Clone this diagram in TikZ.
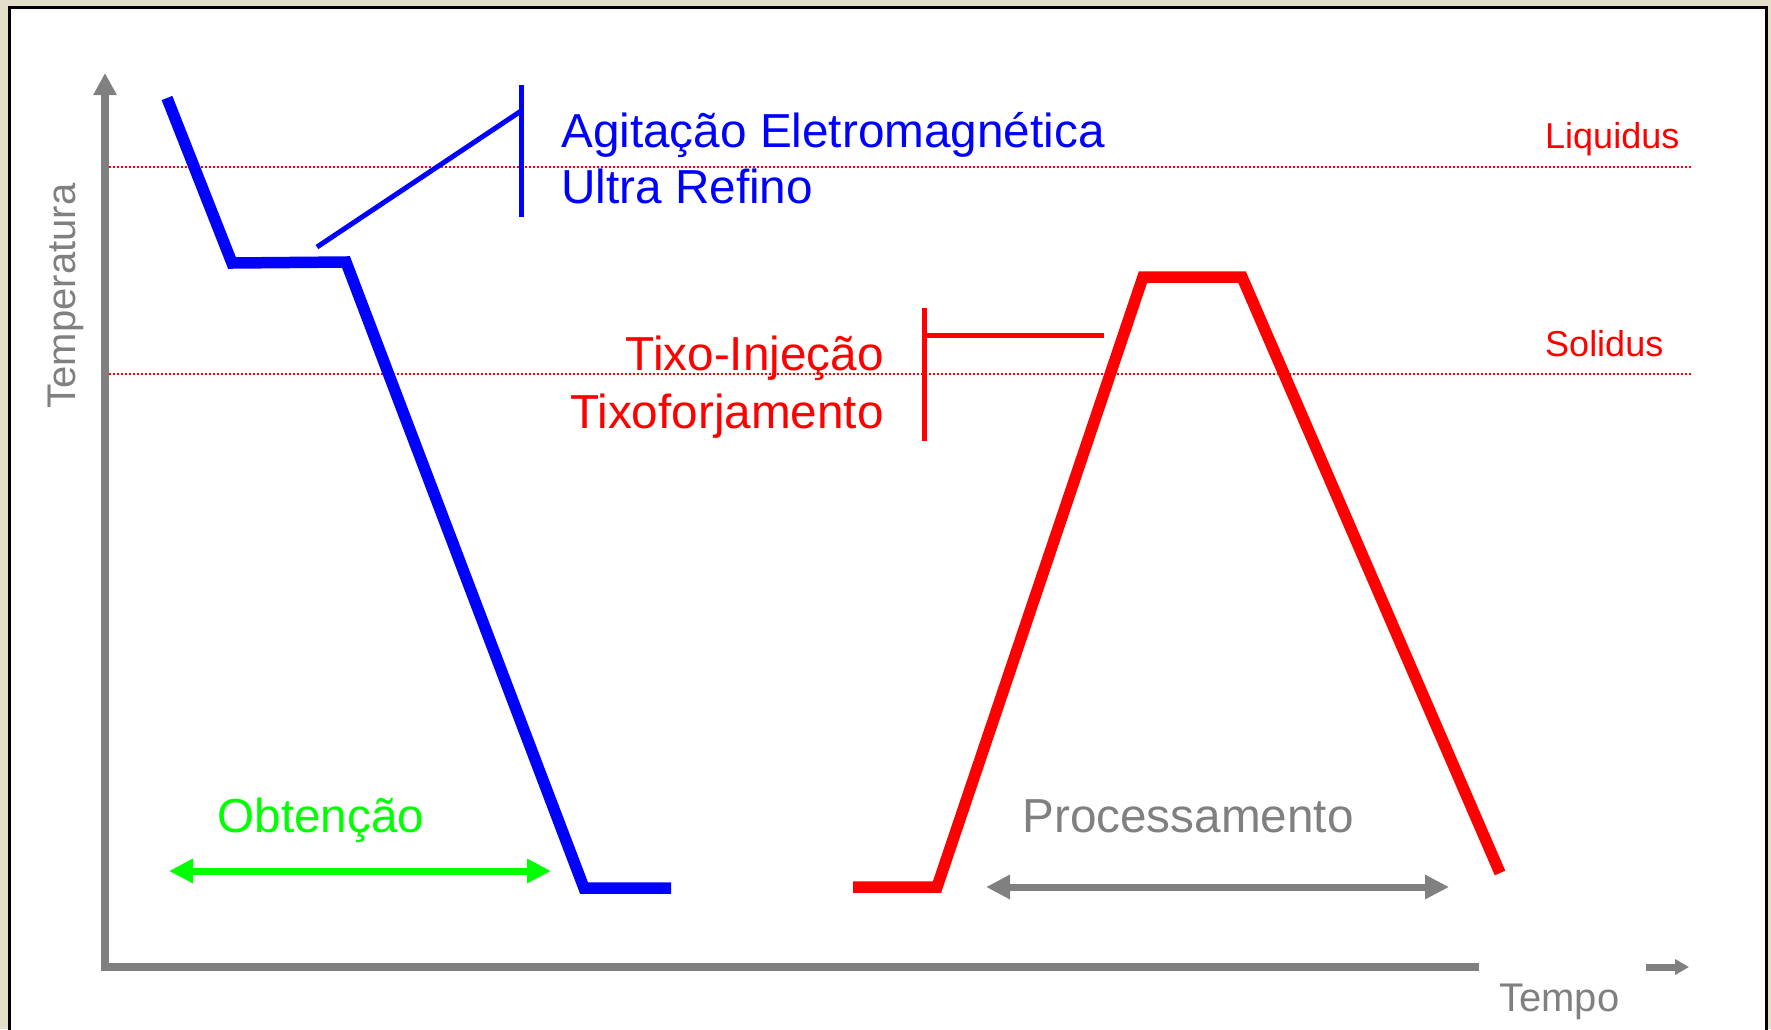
\documentclass[tikz,border=0pt]{standalone}
\usepackage{fontspec}
\setmainfont{Liberation Sans}
\usetikzlibrary{arrows.meta}
\definecolor{bgtex}{HTML}{E4DFC8}
\definecolor{axgray}{HTML}{808080}
\tikzset{spantip/.tip={Triangle[length=24pt,width=23pt]}}
\begin{document}
\begin{tikzpicture}[x=1pt,y=-1pt,
  big/.style={font=\fontsize{47.7}{56}\selectfont, inner sep=0pt},
  small/.style={font=\fontsize{36}{42}\selectfont, inner sep=0pt},
  axlabel/.style={font=\fontsize{40}{46}\selectfont, inner sep=0pt, text=axgray},
  curve/.style={line width=11.5pt, line join=miter},
  lead/.style={line width=5pt},
  level/.style={red, line width=2pt, dash pattern=on 2pt off 2pt},
  axis/.style={axgray, line width=8pt, line join=miter},
]
\useasboundingbox (0,0) rectangle (1771,1029);
\fill[bgtex] (0,0) rectangle (1771,1029);
\draw[fill=white, line width=3pt] (9,7) rectangle (1766,1045);

% levels
\draw[level] (105,167) -- (1691,167);
\draw[level] (105,374) -- (1691,374);
\node[small, red, anchor=base west] (liq) at (1545,148) {Liquidus};
\node[small, red, anchor=base west] (sol) at (1545,356) {Solidus};

% axes
\coordinate (ytip) at (105,73);
\coordinate (orig) at (105,967);
\coordinate (xend) at (1479,967);
\draw[axis, {Triangle[length=22pt,width=22pt]}-] (ytip) -- (orig) -- (xend);
\coordinate (xa1) at (1646,967);
\coordinate (xa2) at (1689,967);
\draw[axgray, line width=7pt, -{Triangle[length=14pt,width=15pt]}] (xa1) -- (xa2);
\node[axlabel, anchor=base west] (tempo) at (1499,1011) {Tempo};
\node[axlabel, rotate=90, anchor=base] (temp) at (75,296) {Temperatura};

% blue curve
\coordinate (b1) at (167,98);
\coordinate (b2) at (232,263);
\coordinate (b3) at (346,262);
\coordinate (b4) at (584,888);
\coordinate (b5) at (671,888);
\draw[curve, blue] (b1) -- (b2) -- (b3) -- (b4) -- (b5);
\coordinate (bl1) at (317,247);
\coordinate (bl2) at (521,111);
\coordinate (bbar1) at (521,85);
\coordinate (bbar2) at (521,217);
\draw[lead, blue] (bl1) -- (bl2);
\draw[lead, blue] (bbar1) -- (bbar2);
\node[big, blue, anchor=base west] (agit) at (561,147) {Agitação Eletromagnética};
\node[big, blue, anchor=base west] (ultra) at (561,203) {Ultra Refino};

% red curve
\coordinate (r1) at (853,887);
\coordinate (r2) at (937,887);
\coordinate (r3) at (1143,277);
\coordinate (r4) at (1242,277);
\coordinate (r5) at (1500,873);
\draw[curve, red] (r1) -- (r2) -- (r3) -- (r4) -- (r5);
\coordinate (rbar1) at (924,308);
\coordinate (rbar2) at (924,441);
\coordinate (rl1) at (924,335);
\coordinate (rl2) at (1104,335);
\draw[lead, red] (rbar1) -- (rbar2);
\draw[lead, red] (rl1) -- (rl2);
\node[big, red, anchor=base east] (tinj) at (884,370) {Tixo-Injeção};
\node[big, red, anchor=base east] (tforj) at (884,428) {Tixoforjamento};

% spans
\node[big, green, anchor=base] (obt) at (321,832) {Obtenção};
\coordinate (g1) at (169,871);
\coordinate (g2) at (551,871);
\draw[green, line width=7pt, spantip-spantip] (g1) -- (g2);
\node[big, text=axgray, anchor=base] (proc) at (1188,832) {Processamento};
\coordinate (p1) at (986,887);
\coordinate (p2) at (1449,887);
\draw[axgray, line width=7pt, spantip-spantip] (p1) -- (p2);
\end{tikzpicture}
\end{document}
